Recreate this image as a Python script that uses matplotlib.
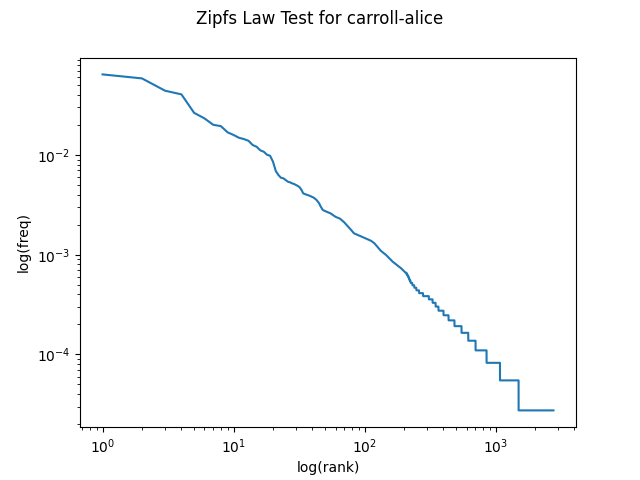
import matplotlib
matplotlib.use("Agg")
import matplotlib.pyplot as plt
import numpy as np

# Head of the distribution: rank -> relative frequency
head_ranks = [1, 2, 3, 4, 5, 6, 7, 8, 9, 10, 11, 12, 13, 14, 15, 16, 17, 18, 19, 20,
              21, 22, 23, 24, 25, 26, 27, 28, 29, 30, 31, 32, 33, 34, 35, 38, 41, 43,
              45, 46, 48, 50, 55, 60, 65, 70, 79, 83, 97, 112, 119, 133, 146, 164, 190]
head_freqs = [0.0644, 0.0587, 0.0442, 0.0406, 0.0265, 0.0233, 0.0201, 0.0195, 0.0169,
              0.0159, 0.0149, 0.01446, 0.0139, 0.0126, 0.0121, 0.01115, 0.0108, 0.01007,
              0.00984, 0.00857, 0.00692, 0.00630, 0.00592, 0.00584, 0.00561, 0.00540,
              0.00532, 0.00520, 0.00512, 0.00500, 0.00489, 0.00474, 0.00446, 0.00413,
              0.00406, 0.00391, 0.00373, 0.00354, 0.00328, 0.00308, 0.00281, 0.00274,
              0.00260, 0.00240, 0.00230, 0.00211, 0.00177, 0.00164, 0.00150, 0.00138,
              0.00130, 0.001096, 0.000993, 0.000851, 0.000731]

# Tail of the distribution: word counts and the first rank holding each count
total_tokens = 36430
tail_counts = [24, 23, 22, 21, 20, 19, 18, 17, 16, 15, 14, 13, 12, 11, 10,
               9, 8, 7, 6, 5, 4, 3, 2, 1]
tail_start_ranks = [206, 210, 214, 218, 221, 225, 232, 240, 249, 261, 280, 310,
                    331, 349, 367, 401, 438, 486, 550, 619, 704, 854, 1081, 1499]
last_rank = 2765

ranks = list(head_ranks)
freqs = list(head_freqs)
for i, c in enumerate(tail_counts):
    s = tail_start_ranks[i]
    e = tail_start_ranks[i + 1] - 1 if i + 1 < len(tail_start_ranks) else last_rank
    f = c / total_tokens
    ranks += [s, e]
    freqs += [f, f]

fig, ax = plt.subplots(figsize=(6.4, 4.8), dpi=100)
ax.plot(ranks, freqs)
ax.set_xscale("log")
ax.set_yscale("log")
ax.set_xlabel("log(rank)")
ax.set_ylabel("log(freq)")
fig.suptitle("Zipfs Law Test for carroll-alice")
fig.savefig("out.png")
